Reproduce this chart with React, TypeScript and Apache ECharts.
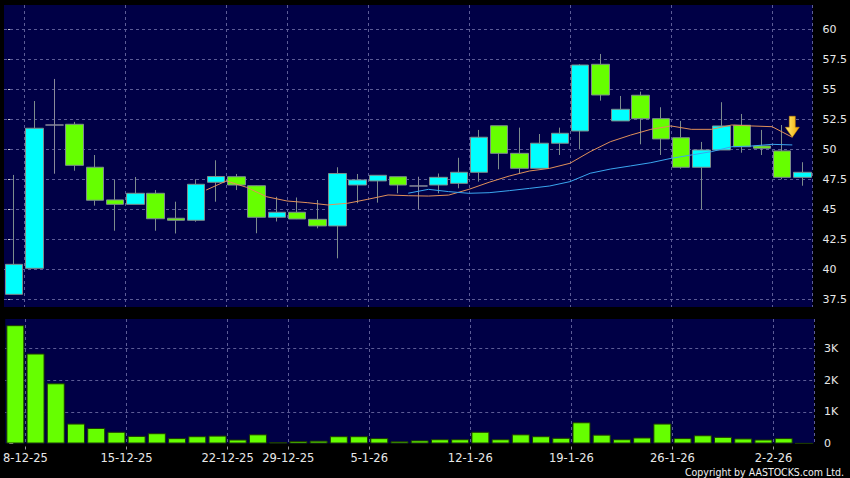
import React, { useEffect, useRef } from "react";
import * as echarts from "echarts";

const dates = [
  "5-12-25", "8-12-25", "9-12-25", "10-12-25", "11-12-25", "12-12-25",
  "15-12-25", "16-12-25", "17-12-25", "18-12-25", "19-12-25",
  "22-12-25", "23-12-25", "24-12-25",
  "29-12-25", "30-12-25", "31-12-25", "2-1-26",
  "5-1-26", "6-1-26", "7-1-26", "8-1-26", "9-1-26",
  "12-1-26", "13-1-26", "14-1-26", "15-1-26", "16-1-26",
  "19-1-26", "20-1-26", "21-1-26", "22-1-26", "23-1-26",
  "26-1-26", "27-1-26", "28-1-26", "29-1-26", "30-1-26",
  "2-2-26", "3-2-26",
];

const tickLabels = ["8-12-25", "15-12-25", "22-12-25", "29-12-25", "5-1-26", "12-1-26", "19-1-26", "26-1-26", "2-2-26"];

const opens = [37.93, 40.1, 52.04, 52.1, 48.52, 45.8, 45.43, 46.35, 44.27, 44.1, 47.27, 47.73, 46.98, 44.35, 44.77, 44.18, 43.63, 47.04, 47.38, 47.73, 46.96, 47.04, 47.18, 48.1, 51.98, 49.68, 48.43, 50.52, 51.54, 57.1, 52.38, 54.52, 52.57, 50.98, 48.52, 49.96, 52.02, 50.29, 49.88, 47.68];
const closes = [40.43, 51.77, 52.04, 48.68, 45.77, 45.43, 46.35, 44.23, 44.1, 47.1, 47.75, 47.04, 44.35, 44.77, 44.21, 43.63, 48.0, 47.46, 47.85, 47.04, 46.96, 47.68, 48.1, 51.02, 49.68, 48.43, 50.52, 51.35, 57.04, 54.54, 53.35, 52.57, 50.88, 48.52, 49.96, 51.96, 50.23, 50.1, 47.68, 48.1];
const lows = [37.93, 40.1, 47.98, 48.23, 45.32, 43.23, 45.43, 43.23, 43.0, 43.98, 45.65, 46.62, 43.02, 44.0, 44.2, 43.43, 40.93, 45.52, 45.57, 46.35, 45.02, 46.35, 46.77, 47.32, 48.35, 48.02, 48.43, 49.54, 50.02, 54.07, 52.38, 50.43, 49.54, 48.4, 45.02, 49.96, 49.73, 49.54, 47.52, 46.98];
const highs = [47.88, 54.04, 55.88, 52.3, 49.54, 47.46, 47.71, 46.62, 45.65, 47.52, 49.1, 47.96, 47.0, 46.06, 46.0, 45.79, 48.52, 47.96, 47.85, 47.73, 47.73, 48.0, 49.31, 51.63, 51.98, 51.82, 51.29, 51.82, 57.1, 57.96, 54.46, 54.82, 53.52, 52.38, 50.63, 53.94, 52.96, 51.63, 52.04, 48.94];

const volumes = [3735, 2840, 1900, 630, 490, 370, 240, 325, 170, 230, 250, 126, 290, 40, 80, 90, 230, 230, 170, 70, 100, 135, 135, 370, 135, 290, 230, 180, 670, 280, 135, 190, 630, 170, 260, 210, 160, 126, 170, 5];

const maShortStart = 10;
const maShort = [46.62, 47.38, 46.85, 46.06, 45.71, 45.57, 45.38, 45.52, 45.85, 46.21, 46.15, 46.12, 46.2, 46.68, 47.27, 47.79, 48.21, 48.43, 48.85, 49.82, 50.65, 51.2, 51.68, 51.96, 51.68, 51.68, 52.04, 51.96, 51.9, 51.02];
const maLongStart = 20;
const maLong = [46.36, 46.68, 46.49, 46.35, 46.4, 46.57, 46.76, 46.96, 47.32, 48.02, 48.37, 48.63, 48.9, 49.26, 49.54, 49.82, 50.23, 50.29, 50.43, 50.38];

const priceTicks = [37.5, 40, 42.5, 45, 47.5, 50, 52.5, 55, 57.5, 60];
const volumeTicks = [0, 1000, 2000, 3000];
const volumeGridLines = [1000, 2000, 3000];

const FONT = "DejaVu Sans";
const GRID_BG = "#000046";
const GRID_LINE = { color: "#5c5c96", type: [3, 3] as any, width: 1 };

export default function App() {
  const ref = useRef<HTMLDivElement>(null);

  useEffect(() => {
    document.body.style.margin = "0";
    document.body.style.background = "#000";
    const chart = echarts.init(ref.current!, null, { renderer: "svg" });
    const isTick = (idx: number) => tickLabels.includes(dates[idx]);
    const tickIdx = tickLabels.map((d) => dates.indexOf(d));

    const candleData = dates.map((_, i) => [opens[i], closes[i], lows[i], highs[i]]);

    const hLines = (values: number[]) => ({
      silent: true, symbol: "none", z: 1, animation: false,
      label: { show: false },
      lineStyle: GRID_LINE,
      emphasis: { disabled: true },
      data: values.map((v) => ({ yAxis: v })),
    });

    const option: any = {
      animation: false,
      backgroundColor: "#000",
      grid: [
        { left: 4, right: 36, top: 5, height: 302, show: true, backgroundColor: GRID_BG, borderWidth: 0 },
        { left: 4, right: 36, top: 319, height: 124.5, show: true, backgroundColor: GRID_BG, borderWidth: 0 },
      ],
      xAxis: [
        {
          type: "category", gridIndex: 0, data: dates, boundaryGap: true,
          axisLine: { show: false }, axisTick: { show: false }, axisLabel: { show: false },
          splitLine: { show: true, lineStyle: GRID_LINE, interval: (i: number) => isTick(i) },
        },
        {
          type: "category", gridIndex: 1, data: dates, boundaryGap: true,
          axisLine: { show: false }, axisTick: { show: false }, axisLabel: { show: false },
          splitLine: { show: true, lineStyle: GRID_LINE, interval: (i: number) => isTick(i) },
        },
        { type: "value", gridIndex: 0, min: 0, max: dates.length, show: false },
        {
          type: "value", gridIndex: 1, min: 0, max: dates.length, position: "bottom",
          axisLine: { show: false },
          splitLine: { show: false },
          axisTick: { show: true, customValues: tickIdx, length: 6, lineStyle: { color: "#999", type: [3, 3], dashOffset: 3 } },
          axisLabel: {
            customValues: tickIdx, color: "#e8e8e8", fontFamily: FONT, fontSize: 11.5, margin: 8,
            formatter: (v: number) => dates[Math.round(v)] ?? "",
          },
        },
      ],
      yAxis: [
        {
          type: "value", gridIndex: 0, position: "right", min: 36.875, max: 62.04,
          axisLine: { show: false },
          axisTick: { show: true, customValues: priceTicks, length: 8, lineStyle: { color: "#ccc", type: [4, 4], dashOffset: 4 } },
          axisLabel: { customValues: priceTicks, color: "#e8e8e8", fontFamily: FONT, fontSize: 11, margin: 10 },
          splitLine: { show: false },
        },
        {
          type: "value", gridIndex: 1, position: "right", min: 0, max: 3930,
          axisLine: { show: false },
          axisTick: { show: true, customValues: volumeTicks, length: 8, lineStyle: { color: "#ccc", type: [4, 4], dashOffset: 4 } },
          axisLabel: {
            customValues: volumeTicks, color: "#e8e8e8", fontFamily: FONT, fontSize: 11, margin: 10,
            formatter: (v: number) => (v === 0 ? "0" : v / 1000 + "K"),
          },
          splitLine: { show: false },
        },
      ],
      series: [
        {
          type: "candlestick", xAxisIndex: 0, yAxisIndex: 0, barWidth: 18, z: 3,
          data: candleData,
          itemStyle: {
            color: "#00ffff", color0: "#66ff00",
            borderColor: "#7d8c8c", borderColor0: "#7d8c8c", borderColorDoji: "#8a8a9a", borderWidth: 1,
          },
          markLine: hLines(priceTicks),
        },
        {
          type: "line", xAxisIndex: 2, yAxisIndex: 0, symbol: "none", z: 4,
          data: maShort.map((v, i) => [i + maShortStart, v]),
          lineStyle: { color: "#e0905a", width: 1 },
          markPoint: {
            symbol: "path://M4,0 L10,0 L10,11 L14,11 L7,21 L0,11 L4,11 Z",
            symbolSize: [14, 21], symbolOffset: [0, -10.5],
            data: [{ coord: [maShortStart + maShort.length - 1, maShort[maShort.length - 1]] }],
            label: { show: false },
            itemStyle: {
              color: new echarts.graphic.LinearGradient(0, 0, 1, 0, [
                { offset: 0, color: "#fff27a" }, { offset: 1, color: "#f0a800" },
              ]),
              borderColor: "#d89000", borderWidth: 0.5,
            },
          },
        },
        {
          type: "line", xAxisIndex: 2, yAxisIndex: 0, symbol: "none", z: 4,
          data: maLong.map((v, i) => [i + maLongStart, v]),
          lineStyle: { color: "#3aa6f0", width: 1 },
        },
        {
          type: "bar", xAxisIndex: 1, yAxisIndex: 1, barWidth: 18, z: 3,
          data: volumes,
          itemStyle: { color: "#66ff00", borderColor: "#1c3a00", borderWidth: 1 },
          markLine: hLines(volumeGridLines),
        },
      ],
      graphic: [
        {
          type: "text", right: 6, bottom: 1,
          style: { text: "Copyright by AASTOCKS.com Ltd.", fill: "#f0f0f0", font: `10.5px "DejaVu Sans Condensed", "DejaVu Sans"` },
        },
      ],
    };
    chart.setOption(option);
    return () => chart.dispose();
  }, []);

  return <div ref={ref} style={{ position: "absolute", left: 0, top: 0, width: 850, height: 478, background: "#000" }} />;
}
